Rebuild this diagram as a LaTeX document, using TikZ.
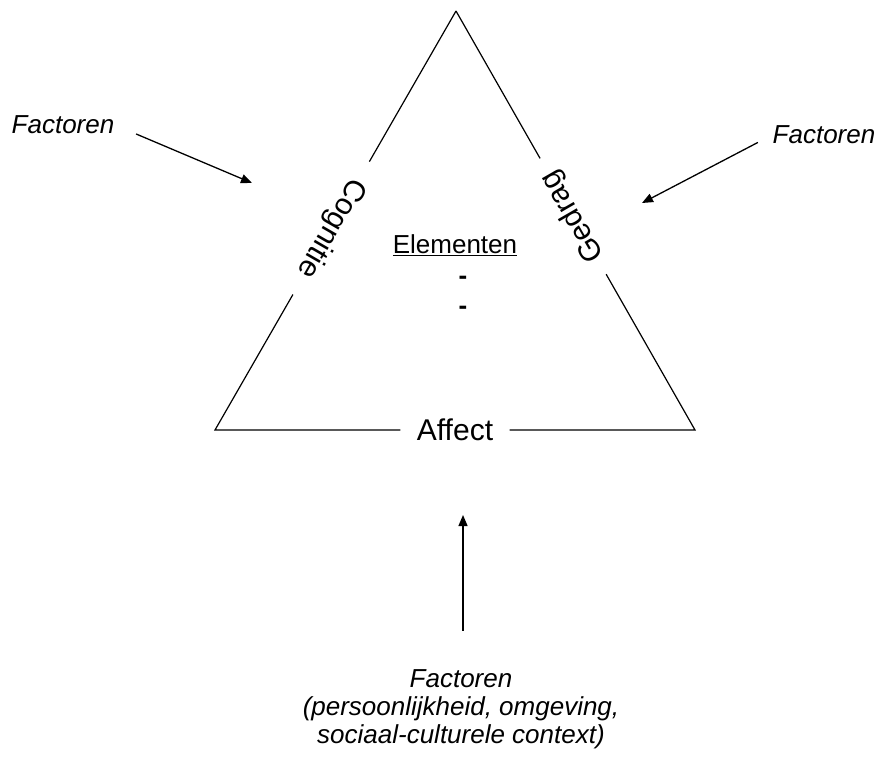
\documentclass[tikz,border=0pt]{standalone}
\usepackage{fontspec}
\setmainfont{Liberation Sans}
\usepackage{tikz}
\usetikzlibrary{arrows.meta,positioning}

\tikzset{
  sidelabel/.style={font=\fontsize{30}{34}\selectfont, inner ysep=0pt},
  factor/.style={font=\fontsize{26}{28}\selectfont\itshape, align=center, inner sep=0pt},
  push/.style={-{Triangle[length=11pt,width=9pt]}, line width=1.3pt},
}

\begin{document}
\begin{tikzpicture}[x=1pt, y=-1pt, line width=1.2pt]
  \useasboundingbox (0,0) rectangle (882,758);

  \coordinate (top) at (456,11);
  \coordinate (bl) at (215,430);
  \coordinate (br) at (695,430);

  \path (top) -- (bl) node[sidelabel, pos=0.518, rotate=-120, inner xsep=21pt] (cog) {Cognitie};
  \path (top) -- (br) node[sidelabel, pos=0.49, rotate=120, inner xsep=16pt] (ged) {Gedrag};
  \path (bl) -- (br) node[sidelabel, midway, inner xsep=16pt] (aff) {Affect};
  \draw (top) -- (cog) -- (bl) -- (aff) -- (br) -- (ged) -- (top);

  \node[font=\fontsize{26}{28}\selectfont] (elem) at (455,245) {\underline{Elementen}};
  \node[font=\fontsize{26}{28}\selectfont\bfseries] (d1) at (463,280) {-};
  \node[font=\fontsize{26}{28}\selectfont\bfseries] (d2) at (463,310) {-};

  \node[factor] (fl) at (63,125) {Factoren};
  \node[factor] (fr) at (824,135) {Factoren};
  \node[factor] (fb) at (461,709) {Factoren\\(persoonlijkheid, omgeving,\\sociaal-culturele context)};

  \coordinate (cl) at (252,183);
  \coordinate (cr) at (642,203);
  \coordinate (cb) at (463,515);

  \draw[push, shorten <=23pt] (fl.east) -- (cl);
  \draw[push, shorten <=16pt] (fr.west) -- (cr);
  \draw[push, shorten <=38pt] (fb.north -| cb) -- (cb);
\end{tikzpicture}
\end{document}
